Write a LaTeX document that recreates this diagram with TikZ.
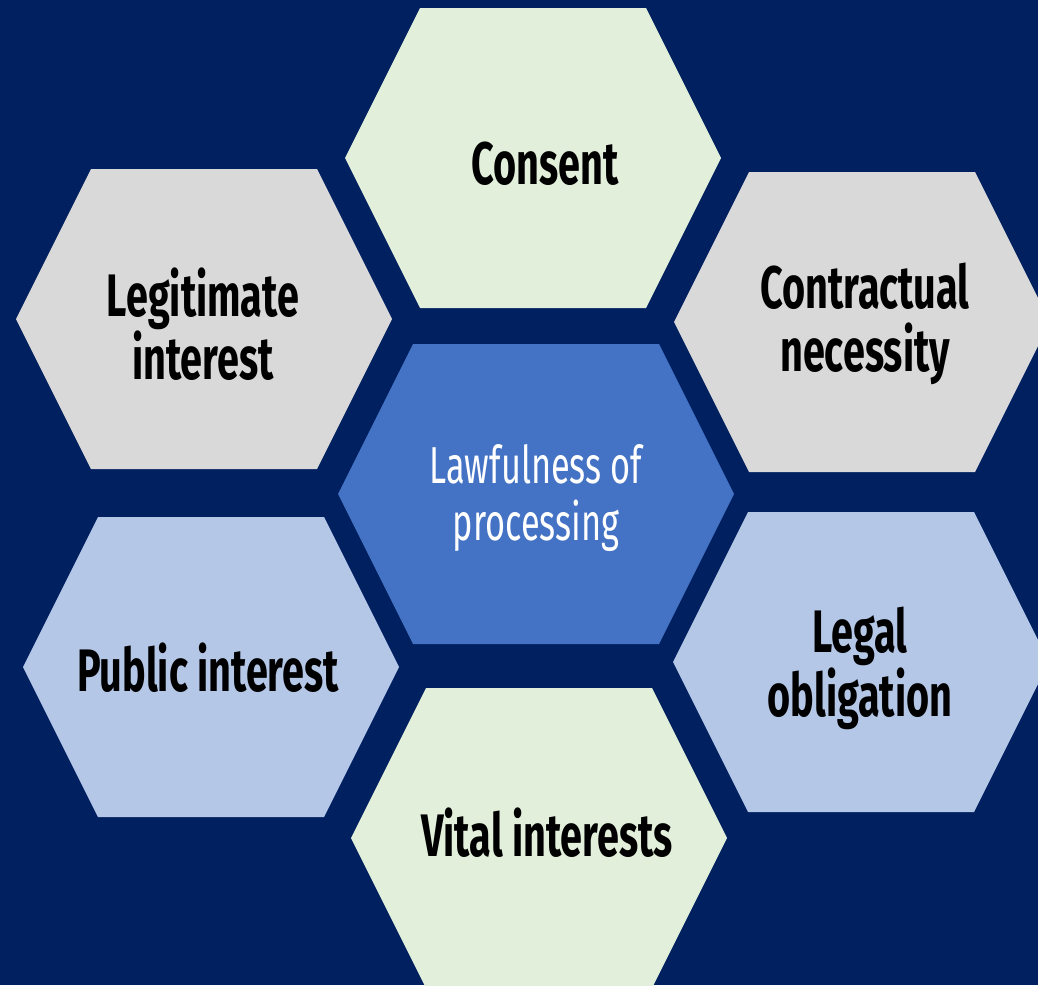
\documentclass[tikz,border=0pt]{standalone}
\usepackage{fontspec}
\setmainfont{Fira Sans}[FakeStretch=0.66]
\usepackage{tikz}
\usetikzlibrary{positioning}
\definecolor{navy}{HTML}{002060}
\definecolor{paleGreen}{HTML}{E2EFDA}
\definecolor{paleGrey}{HTML}{D9D9D9}
\definecolor{paleBlue}{HTML}{B4C7E7}
\definecolor{midBlue}{HTML}{4472C4}
\tikzset{
      basislabel/.style = {align=center, inner sep=0pt, text=black,
                           font=\bfseries\fontsize{30}{31.5}\selectfont},
      tightlabel/.style = {basislabel, font=\bfseries\fontsize{30}{27.5}\selectfont},
      corelabel/.style  = {align=center, inner sep=0pt, text=white,
                           font=\fontsize{26}{28.5}\selectfont},
    }

\begin{document}
\begin{tikzpicture}[x=0.5pt,y=-0.5pt]
  \useasboundingbox (0,0) rectangle (1038,985);
  \fill[navy] (0,0) rectangle (1038,985);
  \clip (0,0) rectangle (1038,985);

  % centre x / centre y / half width / colour
  \foreach \cx/\cy/\hw/\col in {533/158/188/paleGreen, 204/319/188/paleGrey,
      862/322/188/paleGrey, 536/494/198/midBlue, 211/667/188/paleBlue,
      861/662/188/paleBlue, 539/838/188/paleGreen}
    \fill[\col] (\cx-\hw,\cy) -- ++(75,-150) -- ++({2*\hw-150},0) -- ++(75,150)
                -- ++(-75,150) -- ++({150-2*\hw},0) -- cycle;

  \node[corelabel]  (lawful)   at (536,498) {Lawfulness of\\processing};
  \node[basislabel] (consent)  at (545,164) {Consent};
  \node[basislabel] (legit)    at (203,324) {Legitimate\\interest};
  \node[basislabel] (contract) at (865,324) {Contractual\\necessity};
  \node[basislabel] (public)   at (208,668) {Public interest};
  \node[tightlabel] (legal)    at (860,668) {Legal\\obligation};
  \node[basislabel] (vital)    at (547,833) {Vital interests};
\end{tikzpicture}
\end{document}
